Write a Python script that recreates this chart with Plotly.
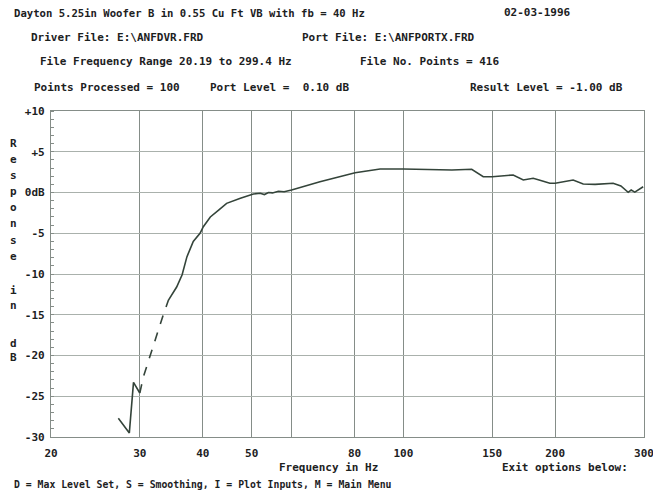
import math
import plotly.graph_objects as go

# ---- data ----
freq_hz = [27.2, 28.6, 29.15, 30.0, 30.5, 33.4, 34.2, 35.5, 36.4, 37.2, 38.3, 39.5, 40.1,
           41.4, 43.0, 44.6, 47.5, 49.7, 50.4, 52, 53, 54, 55, 56.5, 58, 60, 68.3, 80.2,
           89.9, 100, 124.8, 136.6, 144, 150, 158, 165.1, 172.9, 180.9, 188, 195.2, 200,
           210, 217.1, 227.3, 240, 260.6, 270, 279.1, 283, 287.7, 292, 298.9]
response_db = [-27.7, -29.5, -23.3, -24.6, -22.6, -15.0, -13.2, -11.6, -10.1, -7.9, -6.0, -5.0, -4.2,
               -3.0, -2.15, -1.33, -0.71, -0.31, -0.18, -0.1, -0.25, 0.0, -0.05, 0.15, 0.1, 0.31, 1.33, 2.43,
               2.88, 2.88, 2.76, 2.85, 1.94, 1.94, 2.05, 2.15, 1.53, 1.74, 1.45, 1.13, 1.13,
               1.4, 1.53, 1.04, 1.0, 1.13, 0.8, 0.02, 0.3, 0.05, 0.3, 0.71]

x_tick_vals = [20, 30, 40, 50, 60, 80, 100, 150, 200, 300]
x_tick_text = ["20", "30", "40", "50", "", "80", "100", "150", "200", "300"]
y_tick_vals = [10, 5, 0, -5, -10, -15, -20, -25, -30]
y_tick_text = ["+10", "+5", "0dB", "-5", "-10", "-15", "-20", "-25", "-30"]

# (text, x, y, anchor, font size)
header_lines = [
    ("Dayton 5.25in Woofer B in 0.55 Cu Ft VB with fb = 40 Hz", 12, 13, "left", 10.6),
    ("02-03-1996", 537, 13, "center", 11),
    ("Driver File: E:\\ANFDVR.FRD", 117, 38, "center", 11),
    ("Port File: E:\\ANFPORTX.FRD", 388, 38, "center", 11),
    ("File Frequency Range 20.19 to 299.4 Hz", 166, 62, "center", 11),
    ("File No. Points = 416", 429, 62, "center", 11),
    ("Points Processed = 100", 107, 87, "center", 11),
    ("Port Level =  0.10 dB", 279, 87, "center", 11),
    ("Result Level = -1.00 dB", 546, 87, "center", 11),
    ("Frequency in Hz", 328, 467, "center", 11),
    ("Exit options below:", 565, 467, "center", 11),
    ("D = Max Level Set, S = Smoothing, I = Plot Inputs, M = Main Menu", 12, 484, "left", 9.8),
]
ytitle_chars = [("R", 143), ("e", 159), ("s", 175), ("p", 191), ("o", 207), ("n", 223),
                ("s", 240), ("e", 256), ("i", 290), ("n", 305), ("d", 343), ("B", 357)]

# ---- layout geometry (pixels) ----
W, H = 653, 495
L, R, T, B = 51, 644, 111, 437
FONT = "DejaVu Sans Mono"
TXT = "#1c211e"
CURVE = "#34443a"


def px(x, y):
    return (x - L) / (R - L), (B - y) / (B - T)


fig = go.Figure()
segments = [(0, 4, "solid"), (3, 7, "dash"), (6, len(freq_hz), "solid")]
for a, b, d in segments:
    fig.add_trace(go.Scatter(x=freq_hz[a:b], y=response_db[a:b], mode="lines",
                             line=dict(color=CURVE, width=1.6, dash=d),
                             hoverinfo="skip", showlegend=False))

anns = []
for text, cx, cy, anc, fs in header_lines:
    xp, yp = px(cx, cy)
    anns.append(dict(text="<b>%s</b>" % text, x=xp, y=yp, xref="paper", yref="paper",
                     xanchor=anc, yanchor="middle", showarrow=False,
                     font=dict(family=FONT, size=fs, color=TXT)))
for ch, cy in ytitle_chars:
    xp, yp = px(13, cy)
    anns.append(dict(text="<b>%s</b>" % ch, x=xp, y=yp, xref="paper", yref="paper",
                     xanchor="center", yanchor="middle", showarrow=False,
                     font=dict(family=FONT, size=11, color=TXT)))

fig.update_layout(
    width=W, height=H, autosize=False,
    margin=dict(l=L, r=W - R, t=T, b=H - B, pad=0),
    paper_bgcolor="white", plot_bgcolor="white",
    annotations=anns,
    showlegend=False,
)
fig.update_xaxes(type="log", range=[math.log10(19.999), math.log10(300.05)],
                 tickvals=x_tick_vals,
                 ticktext=["<b>%s</b>" % t if t else "" for t in x_tick_text],
                 tickfont=dict(family=FONT, size=11, color=TXT),
                 ticklabeloverflow="allow", automargin=False,
                 showgrid=True, gridcolor="#858d88", gridwidth=1.2,
                 showline=True, linecolor="#858d88", linewidth=1.2, mirror=True,
                 ticks="", ticklabelstandoff=6, zeroline=False)
fig.update_yaxes(range=[-30, 10], tickvals=y_tick_vals,
                 ticktext=["<b>%s</b>" % t for t in y_tick_text],
                 tickfont=dict(family=FONT, size=11, color=TXT),
                 automargin=False,
                 showgrid=True, gridcolor="#aab1ac", gridwidth=1,
                 showline=True, linecolor="#858d88", linewidth=1.2, mirror=True,
                 ticks="", ticklabelstandoff=3, zeroline=False,
                 minor=dict(dtick=1, ticks="inside", ticklen=3, tickcolor="#858d88",
                            showgrid=False))

fig.write_html("out.html", config={"displayModeBar": False},
               post_script="document.body.style.margin='0';document.body.style.overflow='hidden';")
